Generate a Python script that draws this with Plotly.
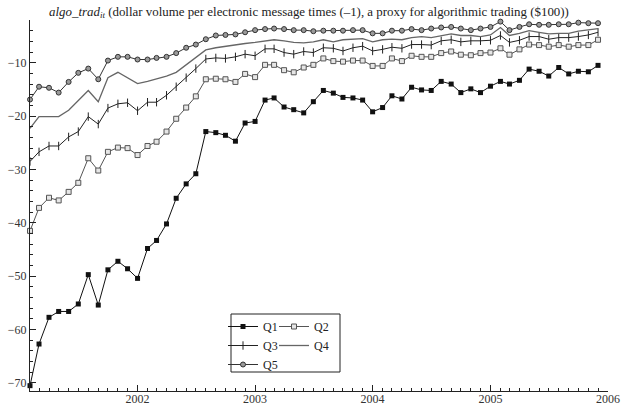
import pandas as pd
import plotly.graph_objects as go

# Monthly observations, Feb 2001 .. Dec 2005
months = pd.date_range("2001-02-01", "2005-12-01", freq="MS")

q1 = [-70.5, -62.7, -57.7, -56.6, -56.6, -55.2, -49.7, -55.4, -48.8, -47.2,
      -48.6, -50.4, -44.8, -43.3, -40.2, -35.4, -32.7, -30.8, -22.9, -23.1,
      -23.6, -24.7, -21.3, -21.0, -17.0, -16.6, -18.3, -18.8, -19.4, -17.3,
      -15.2, -15.7, -16.5, -16.6, -17.0, -19.2, -18.4, -16.2, -16.8, -14.6,
      -15.1, -15.2, -13.5, -14.0, -15.6, -14.9, -15.6, -14.4, -13.5, -14.0,
      -13.3, -11.2, -11.6, -12.5, -10.9, -12.1, -11.6, -11.7, -10.5]
q2 = [-41.5, -37.2, -35.3, -35.8, -34.2, -32.5, -27.9, -30.2, -26.7, -25.9,
      -26.0, -27.3, -25.6, -24.8, -22.9, -20.5, -18.4, -16.3, -13.1, -13.0,
      -13.1, -13.6, -12.1, -12.7, -10.4, -10.4, -11.4, -11.8, -10.9, -10.4,
      -9.2, -9.7, -9.8, -9.6, -9.6, -10.6, -10.6, -9.2, -9.7, -8.7,
      -8.9, -8.9, -8.2, -7.9, -8.5, -8.6, -8.2, -8.1, -7.3, -8.5,
      -7.5, -6.6, -6.7, -7.0, -6.7, -7.0, -6.7, -6.7, -5.7]
q3 = [-28.5, -26.7, -25.6, -25.6, -23.9, -22.9, -20.1, -21.5, -18.5, -17.7,
      -17.5, -19.0, -17.4, -17.4, -16.1, -14.5, -12.8, -11.1, -9.3, -9.1,
      -9.2, -8.9, -8.4, -8.7, -7.4, -7.4, -8.1, -8.4, -7.9, -8.1,
      -7.2, -7.3, -7.8, -7.2, -6.9, -7.8, -7.5, -7.1, -7.3, -6.6,
      -6.6, -6.7, -5.9, -5.7, -6.1, -5.9, -5.9, -5.8, -4.9, -6.2,
      -5.8, -5.1, -5.1, -5.6, -5.3, -5.3, -5.1, -4.8, -4.3]
q4 = [-22.3, -20.1, -20.1, -20.1, -18.9, -17.0, -15.2, -17.3, -12.8, -11.8,
      -12.9, -13.9, -13.5, -13.0, -12.5, -11.8, -10.4, -9.0, -7.6, -7.2,
      -6.9, -6.7, -6.4, -6.2, -5.9, -5.7, -5.9, -6.2, -6.3, -6.1,
      -5.7, -6.1, -5.7, -5.6, -5.5, -6.1, -5.7, -5.6, -5.7, -5.3,
      -5.1, -5.3, -4.9, -4.6, -4.9, -4.9, -5.1, -4.8, -3.4, -4.9,
      -4.5, -4.0, -4.3, -4.6, -4.5, -4.5, -4.1, -3.9, -3.6]
q5 = [-16.9, -14.5, -14.7, -15.6, -13.6, -11.9, -11.1, -13.1, -9.6, -8.9,
      -8.9, -9.4, -9.4, -9.1, -8.9, -8.2, -7.2, -6.6, -5.6, -4.9,
      -4.8, -4.7, -4.3, -3.9, -3.7, -3.6, -3.7, -3.9, -3.9, -4.1,
      -4.0, -4.0, -4.0, -3.9, -3.9, -4.5, -4.5, -4.0, -4.0, -3.7,
      -3.9, -3.6, -3.4, -3.3, -3.6, -3.9, -3.6, -3.3, -2.3, -3.9,
      -3.3, -2.8, -2.9, -2.9, -2.8, -2.8, -2.5, -2.6, -2.6]

year_tick_dates = ["2002-01-01", "2003-01-01", "2004-01-01", "2005-01-01", "2006-01-01"]
year_tick_labels = ["2002", "2003", "2004", "2005", "2006"]
y_tick_vals = [-70, -60, -50, -40, -30, -20, -10]
y_tick_labels = ["\u221270", "\u221260", "\u221250", "\u221240", "\u221230", "\u221220", "\u221210"]

FONT = "Liberation Serif"

fig = go.Figure()
fig.add_trace(go.Scatter(
    x=months, y=q1, name="Q1", mode="lines+markers", legend="legend",
    line=dict(color="#111111", width=1),
    marker=dict(symbol="square", size=5, color="#111111"), cliponaxis=False))
fig.add_trace(go.Scatter(
    x=months, y=q3, name="Q3", mode="lines+markers", legend="legend",
    line=dict(color="#222222", width=1),
    marker=dict(symbol="line-ns", size=6, line=dict(color="#222222", width=1)),
    cliponaxis=False))
fig.add_trace(go.Scatter(
    x=months, y=q5, name="Q5", mode="lines+markers", legend="legend",
    line=dict(color="#333333", width=1),
    marker=dict(symbol="circle", size=5, color="#9a9a9a",
                line=dict(color="#333333", width=1)), cliponaxis=False))
fig.add_trace(go.Scatter(
    x=months, y=q2, name="Q2", mode="lines+markers", legend="legend2",
    line=dict(color="#555555", width=1),
    marker=dict(symbol="square", size=5, color="#e6e6e6",
                line=dict(color="#555555", width=1)), cliponaxis=False))
fig.add_trace(go.Scatter(
    x=months, y=q4, name="Q4", mode="lines", legend="legend2",
    line=dict(color="#666666", width=1.3), cliponaxis=False))

L, R, T, B = 30, 14, 20, 15
W, H = 622, 406
pw, ph = W - L - R, H - T - B


def px_x(p):
    return (p - L) / pw


def px_y(p):
    return (H - B - p) / ph


legend_common = dict(
    bgcolor="rgba(0,0,0,0)", borderwidth=0, itemwidth=30,
    font=dict(family=FONT, size=12, color="#222222"),
    xanchor="left", yanchor="top", tracegroupgap=0,
)

fig.update_layout(
    width=W, height=H,
    margin=dict(l=L, r=R, t=T, b=B, autoexpand=False),
    paper_bgcolor="white", plot_bgcolor="white",
    font=dict(family=FONT, size=12, color="#333333"),
    title=dict(
        text="<i>algo_trad</i><sub><i>it</i></sub> (dollar volume per electronic message times (\u20131), a proxy for algorithmic trading ($100))",
        x=(309 / W), xanchor="center", y=1 - 11 / H, yanchor="middle",
        font=dict(family=FONT, size=12.9, color="#222222"),
    ),
    legend=dict(x=px_x(223), y=px_y(312), **legend_common),
    legend2=dict(x=px_x(274), y=px_y(312), **legend_common),
    xaxis=dict(
        type="date", range=["2001-02-01", "2006-01-01"], automargin=False,
        tickvals=year_tick_dates, ticktext=year_tick_labels,
        ticks="inside", ticklen=6, tickcolor="#222222", tickwidth=1,
        ticklabelstandoff=-3,
        minor=dict(dtick="M1", tick0="2001-01-01", ticks="inside", ticklen=3,
                   tickcolor="#222222", tickwidth=1, showgrid=False),
        showline=True, linecolor="#222222", linewidth=1,
        showgrid=False, zeroline=False,
        tickfont=dict(family=FONT, size=12, color="#333333"),
    ),
    yaxis=dict(
        range=[-71.5, -2.0], automargin=False,
        tickvals=y_tick_vals, ticktext=y_tick_labels,
        ticks="inside", ticklen=6, tickcolor="#222222", tickwidth=1,
        minor=dict(dtick=2, tick0=0, ticks="inside", ticklen=3,
                   tickcolor="#222222", tickwidth=1, showgrid=False),
        showline=True, linecolor="#222222", linewidth=1,
        showgrid=False, zeroline=False,
        tickfont=dict(family=FONT, size=12, color="#333333"),
    ),
    shapes=[dict(type="rect", xref="paper", yref="paper",
                 x0=px_x(231), x1=px_x(340), y0=px_y(314), y1=px_y(372),
                 line=dict(color="#222222", width=1))],
)

fig.write_html("out.html", config={"displayModeBar": False},
               post_script="document.body.style.margin='0';")
